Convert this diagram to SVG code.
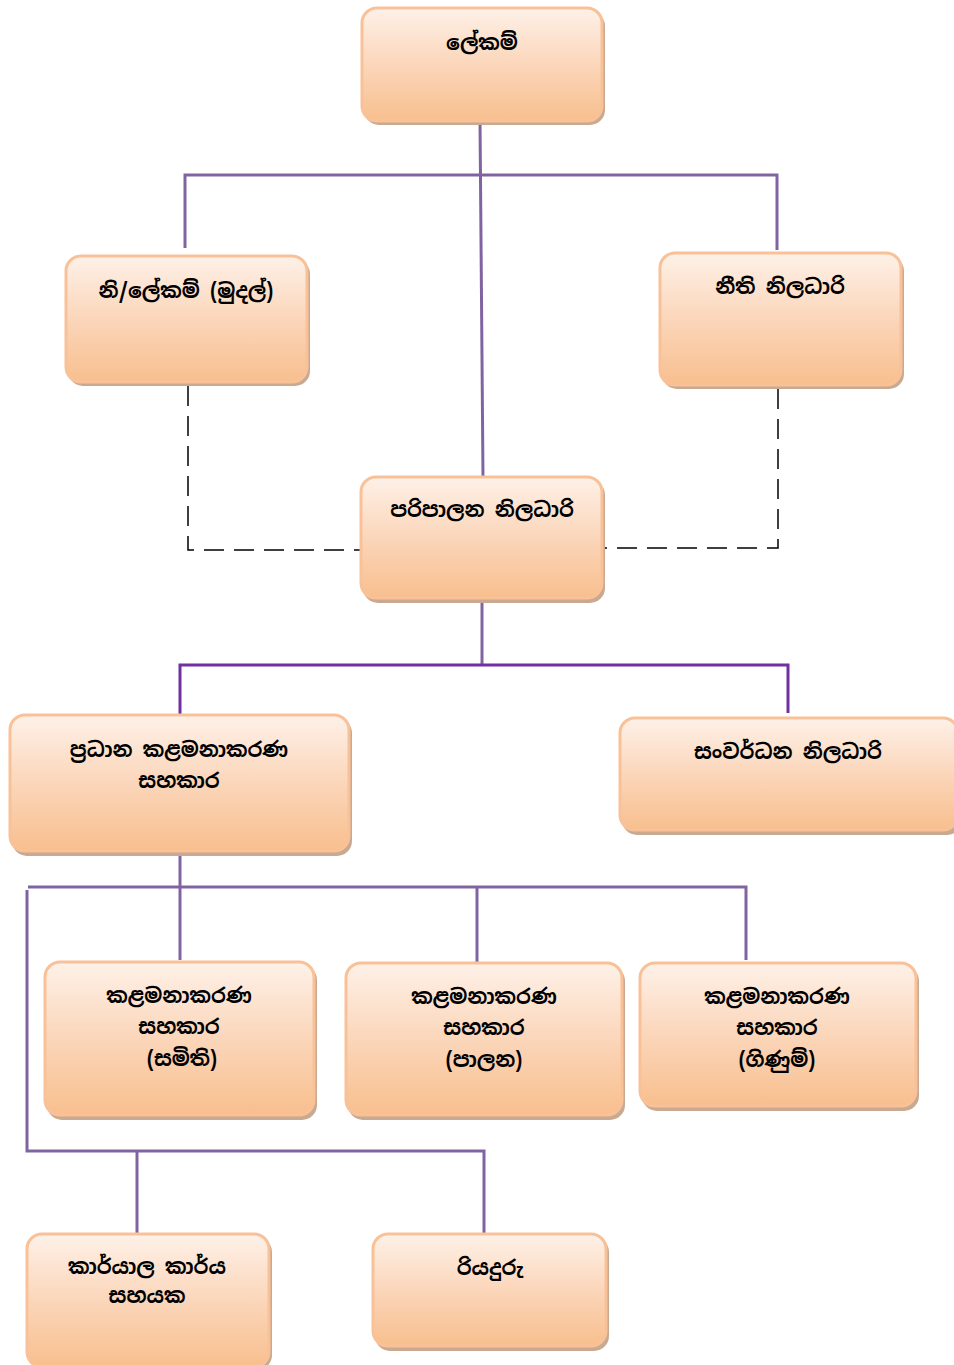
<svg xmlns="http://www.w3.org/2000/svg" width="954" height="1365" viewBox="0 0 954 1365">
<style>
.box{fill:url(#g);stroke:#F9C198;stroke-width:3}
.sh{fill:#C9A98F}
.t{font-family:"Noto Sans Sinhala","Noto Serif Sinhala","Iskoola Pota","Noto Sans",sans-serif;font-size:20.5px;font-weight:bold;fill:#000;text-anchor:middle}
.c{fill:none;stroke:#8064A2;stroke-width:3}
.c2{fill:none;stroke:#7030A0;stroke-width:3}
.d{fill:none;stroke:#000;stroke-width:1.5;stroke-dasharray:20,10}
</style>
<defs>
<linearGradient id="g" x1="0" y1="0" x2="0" y2="1">
<stop offset="0" stop-color="#FEF1E8"/>
<stop offset="0.5" stop-color="#FBD6BA"/>
<stop offset="1" stop-color="#F8BF8E"/>
</linearGradient>
</defs>
<g id="connectors">
<path class="c" d="M480 120 L483 477"/>
<path class="c" d="M185 248 V175 H777 V250"/>
<path class="d" d="M188 386 V550 H360"/>
<path class="d" d="M778 389 V548 H604"/>
<path class="c" d="M482 600 V665"/>
<path class="c2" d="M180 715 V665 H788 V713"/>
<path class="c" d="M180 853 V960"/>
<path class="c" d="M28 887 H746 V960"/>
<path class="c" d="M477 887 V962"/>
<path class="c" d="M27 890 V1151 H484 V1233"/>
<path class="c" d="M137 1151 V1233"/>
</g>
<g id="n1">
<rect class="sh" x="364" y="11" width="241" height="114" rx="15"/>
<rect class="box" x="362" y="8" width="240" height="113" rx="15"/>
<text class="t" x="482" y="50">ලේකම්</text>
</g>
<g id="n2">
<rect class="sh" x="68" y="259" width="242" height="127" rx="15"/>
<rect class="box" x="66" y="256" width="241" height="126" rx="15"/>
<text class="t" x="186" y="298">නි/ලේකම් (මුදල්)</text>
</g>
<g id="n3">
<rect class="sh" x="662" y="256" width="242" height="133" rx="15"/>
<rect class="box" x="660" y="253" width="241" height="132" rx="15"/>
<text class="t" x="780" y="294">නීති නිලධාරි</text>
</g>
<g id="n4">
<rect class="sh" x="363" y="480" width="242" height="123" rx="15"/>
<rect class="box" x="361" y="477" width="241" height="121" rx="15"/>
<text class="t" x="482" y="517">පරිපාලන නිලධාරි</text>
</g>
<g id="n5">
<rect class="sh" x="12" y="718" width="340" height="138" rx="15"/>
<rect class="box" x="10" y="715" width="339" height="136" rx="15"/>
<text class="t" x="179" y="757">ප්‍රධාන කළමනාකරණ</text>
<text class="t" x="179" y="788">සහකාර</text>
</g>
<g id="n6">
<rect class="sh" x="622" y="721" width="340" height="114" rx="15"/>
<rect class="box" x="620" y="718" width="338" height="112" rx="15"/>
<text class="t" x="788" y="759">සංවර්ධන නිලධාරි</text>
</g>
<g id="n7">
<rect class="sh" x="47" y="965" width="270" height="155" rx="15"/>
<rect class="box" x="45" y="962" width="269" height="153" rx="15"/>
<text class="t" x="179" y="1003">කළමනාකරණ</text>
<text class="t" x="179" y="1034">සහකාර</text>
<text class="t" x="182" y="1066">(සමිති)</text>
</g>
<g id="n8">
<rect class="sh" x="348" y="966" width="277" height="154" rx="15"/>
<rect class="box" x="346" y="963" width="276" height="152" rx="15"/>
<text class="t" x="484" y="1004">කළමනාකරණ</text>
<text class="t" x="484" y="1035">සහකාර</text>
<text class="t" x="484" y="1067">(පාලන)</text>
</g>
<g id="n9">
<rect class="sh" x="642" y="966" width="277" height="145" rx="15"/>
<rect class="box" x="640" y="963" width="276" height="143" rx="15"/>
<text class="t" x="777" y="1004">කළමනාකරණ</text>
<text class="t" x="777" y="1035">සහකාර</text>
<text class="t" x="777" y="1067">(ගිණුම්)</text>
</g>
<g id="n10">
<rect class="sh" x="29" y="1237" width="243" height="133" rx="15"/>
<rect class="box" x="27" y="1234" width="242" height="133" rx="15"/>
<text class="t" x="147" y="1274">කාර්යාල කාර්ය</text>
<text class="t" x="147" y="1303">සහයක</text>
</g>
<g id="n11">
<rect class="sh" x="375" y="1237" width="234" height="114" rx="15"/>
<rect class="box" x="373" y="1234" width="233" height="112" rx="15"/>
<text class="t" x="490" y="1275">රියදුරු</text>
</g>
</svg>
